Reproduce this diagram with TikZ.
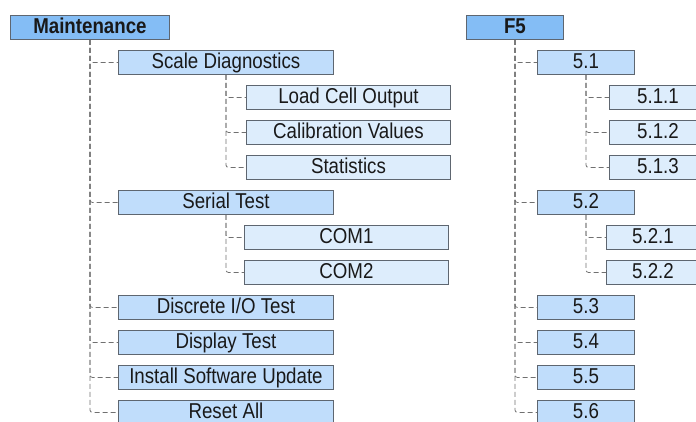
\documentclass[tikz,border=0pt]{standalone}
\usepackage{fontspec}
\setmainfont{Liberation Sans}[FakeStretch=0.87]
\definecolor{lvlone}{HTML}{84BDF5}
\definecolor{lvltwo}{HTML}{C0DDFB}
\definecolor{lvlthree}{HTML}{DDEDFC}
\definecolor{boxline}{HTML}{5E6670}
\definecolor{dashline}{HTML}{707070}
\tikzset{
  box/.style={draw=boxline, line width=0.9pt, anchor=north west, minimum height=24pt,
    inner sep=0pt, text height=15.4pt, text depth=4pt, text=black!90, font=\fontsize{21.5}{23}\selectfont},
  topbox/.style={box, fill=lvlone, font=\fontsize{21.5}{23}\selectfont\bfseries},
  midbox/.style={box, fill=lvltwo},
  lowbox/.style={box, fill=lvlthree},
  lastrow/.style={minimum height=22pt, text depth=2pt},
  link/.style={draw=dashline, line width=0.8pt, dash pattern=on 5pt off 3pt, rounded corners=2.5pt}
}
\begin{document}
\begin{tikzpicture}[x=1pt,y=-1pt]
\useasboundingbox (0,0) rectangle (696,422);
\clip (0,0) rectangle (696,422);
% left tree
\node[topbox, minimum width=159pt] (m) at (10,15) {Maintenance};
\node[midbox, minimum width=215pt] (sd) at (118,50) {Scale Diagnostics};
\node[lowbox, minimum width=204pt] (lco) at (246,85) {Load Cell Output};
\node[lowbox, minimum width=204pt] (cv) at (246,120) {Calibration Values};
\node[lowbox, minimum width=204pt] (st) at (246,155) {Statistics};
\node[midbox, minimum width=215pt] (ser) at (118,190) {Serial Test};
\node[lowbox, minimum width=204pt] (c1) at (244,225) {COM1};
\node[lowbox, minimum width=204pt] (c2) at (244,260) {COM2};
\node[midbox, minimum width=215pt] (dio) at (118,295) {Discrete I/O Test};
\node[midbox, minimum width=215pt] (dt) at (118,330) {Display Test};
\node[midbox, minimum width=215pt] (isu) at (118,365) {Install Software Update};
\node[midbox, lastrow, minimum width=215pt] (ra) at (118,400) {Reset All};
% right tree
\node[topbox, minimum width=97pt] (f5) at (466,15) {F5};
\node[midbox, minimum width=97pt] (a1) at (537,50) {5.1};
\node[lowbox, minimum width=97pt] (a11) at (609,85) {5.1.1};
\node[lowbox, minimum width=97pt] (a12) at (609,120) {5.1.2};
\node[lowbox, minimum width=97pt] (a13) at (609,155) {5.1.3};
\node[midbox, minimum width=97pt] (a2) at (537,190) {5.2};
\node[lowbox, minimum width=93pt] (a21) at (606,225) {5.2.1};
\node[lowbox, minimum width=93pt] (a22) at (606,260) {5.2.2};
\node[midbox, minimum width=97pt] (a3) at (537,295) {5.3};
\node[midbox, minimum width=97pt] (a4) at (537,330) {5.4};
\node[midbox, minimum width=97pt] (a5) at (537,365) {5.5};
\node[midbox, lastrow, minimum width=97pt] (a6) at (537,400) {5.6};
% connectors
\foreach \t in {sd,ser,dio,dt,isu} \draw[link] (m.south) |- (\t.west);
\draw[link] (m.south) |- ([yshift=-1pt]ra.west);
\foreach \t in {lco,cv,st} \draw[link] (sd.south) |- (\t.west);
\foreach \t in {c1,c2} \draw[link] (ser.south) |- (\t.west);
\foreach \t in {a1,a2,a3,a4,a5} \draw[link] (f5.south) |- (\t.west);
\draw[link] (f5.south) |- ([yshift=-1pt]a6.west);
\foreach \t in {a11,a12,a13} \draw[link] (a1.south) |- (\t.west);
\foreach \t in {a21,a22} \draw[link] (a2.south) |- (\t.west);
\end{tikzpicture}
\end{document}
